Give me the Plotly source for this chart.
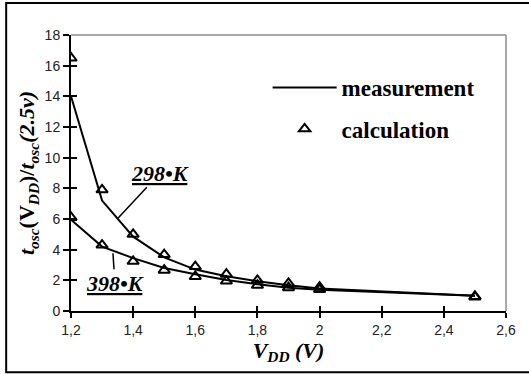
import plotly.graph_objects as go

vdd = [1.2, 1.3, 1.4, 1.5, 1.6, 1.7, 1.8, 1.9, 2.0, 2.5]
meas_298 = [14.0, 7.2, 4.85, 3.5, 2.7, 2.26, 1.94, 1.68, 1.47, 1.0]
calc_298 = [16.5, 7.9, 5.0, 3.68, 2.9, 2.4, 2.0, 1.8, 1.55, 0.95]
meas_398 = [5.95, 4.2, 3.45, 2.8, 2.4, 2.02, 1.75, 1.52, 1.38, 1.0]
calc_398 = [6.1, 4.3, 3.24, 2.66, 2.25, 1.95, 1.68, 1.52, 1.4, 0.92]

x_ticks = [1.2, 1.4, 1.6, 1.8, 2.0, 2.2, 2.4, 2.6]
x_labels = ["1,2", "1,4", "1,6", "1,8", "2", "2,2", "2,4", "2,6"]
y_ticks = [0, 2, 4, 6, 8, 10, 12, 14, 16, 18]

serif = "Liberation Serif, Times New Roman, serif"
sans = "Liberation Sans, Arial, sans-serif"

fig = go.Figure()
line_style = dict(color="black", width=2)
marker_style = dict(symbol="triangle-up-open", size=10, color="black", line=dict(width=2, color="black"))

fig.add_trace(go.Scatter(x=vdd, y=meas_298, mode="lines", line=line_style,
                         name="<b>measurement</b>", showlegend=True, legend="legend"))
fig.add_trace(go.Scatter(x=vdd, y=meas_398, mode="lines", line=line_style,
                         name="<b>measurement</b>", showlegend=False))
fig.add_trace(go.Scatter(x=vdd, y=calc_298, mode="markers", marker=marker_style,
                         name="<b>calculation</b>", showlegend=True, legend="legend2"))
fig.add_trace(go.Scatter(x=vdd, y=calc_398, mode="markers", marker=marker_style,
                         name="<b>calculation</b>", showlegend=False))
# invisible trace to activate overlay axes (crossing tick marks)
fig.add_trace(go.Scatter(x=[None], y=[None], xaxis="x2", yaxis="y2", showlegend=False, hoverinfo="skip"))

fig.update_layout(
    width=529, height=374,
    margin=dict(l=71, r=23, t=35, b=63),
    paper_bgcolor="white", plot_bgcolor="white",
    xaxis=dict(range=[1.2, 2.6], tickvals=x_ticks, ticktext=x_labels,
               showline=True, linecolor="black", linewidth=2,
               ticks="outside", ticklen=5, tickwidth=1.5, tickcolor="black",
               showgrid=False, zeroline=False,
               tickfont=dict(family=sans, size=14, color="#222"),
               title=dict(text="<b><i>V<sub>DD</sub> (V)</i></b>",
                          font=dict(family=serif, size=22, color="black"), standoff=2)),
    yaxis=dict(range=[0, 18], tickvals=y_ticks,
               showline=True, linecolor="black", linewidth=2,
               ticks="outside", ticklen=6, tickwidth=1.5, tickcolor="black",
               showgrid=False, zeroline=False,
               tickfont=dict(family=sans, size=14, color="#222"),
               title=dict(text="<b><i>t<sub>osc</sub></i>(V<sub><i>DD</i></sub>)/<i>t<sub>osc</sub>(2.5v)</i></b>",
                          font=dict(family=serif, size=22, color="black"), standoff=4)),
    xaxis2=dict(range=[1.2, 2.6], overlaying="x", anchor="y", side="bottom",
                tickvals=x_ticks, showticklabels=False, ticks="inside", ticklen=5,
                tickwidth=1.5, tickcolor="black", showline=False, showgrid=False, zeroline=False),
    yaxis2=dict(range=[0, 18], overlaying="y", anchor="x", side="left",
                tickvals=y_ticks, showticklabels=False, ticks="inside", ticklen=6,
                tickwidth=1.5, tickcolor="black", showline=False, showgrid=False, zeroline=False),
    legend=dict(x=0.452, y=0.81, xanchor="left", yanchor="middle", bgcolor="rgba(0,0,0,0)",
                itemwidth=64, font=dict(family=serif, size=23, color="black")),
    legend2=dict(x=0.452, y=0.66, xanchor="left", yanchor="middle", bgcolor="rgba(0,0,0,0)",
                 itemwidth=64, font=dict(family=serif, size=23, color="black")),
    showlegend=True,
)

fig.add_annotation(x=1.351, y=6.05, ax=42, ay=-45, xref="x", yref="y",
                   text="<b><i><u>298•K</u></i></b>", showarrow=True, arrowhead=0,
                   arrowwidth=1.5, arrowcolor="black",
                   font=dict(family=serif, size=22, color="black"))
fig.add_annotation(x=1.335, y=3.77, ax=2, ay=30, xref="x", yref="y",
                   text="<b><i><u>398•K</u></i></b>", showarrow=True, arrowhead=0,
                   arrowwidth=1.5, arrowcolor="black",
                   font=dict(family=serif, size=22, color="black"))

# plot-area border (gray top/right) and outer frame
fig.add_shape(type="line", xref="paper", yref="paper", x0=0, x1=1, y0=1, y1=1,
              line=dict(color="#8c8c8c", width=1.5))
fig.add_shape(type="line", xref="paper", yref="paper", x0=1, x1=1, y0=0, y1=1,
              line=dict(color="#8c8c8c", width=1.5))
fig.add_shape(type="rect", xref="paper", yref="paper", x0=-0.149, x1=1.06, y0=-0.222, y1=1.116,
              line=dict(color="black", width=2), layer="below")

fig.write_html("out.html", config={"displayModeBar": False},
               post_script="document.body.style.margin='0px';")
